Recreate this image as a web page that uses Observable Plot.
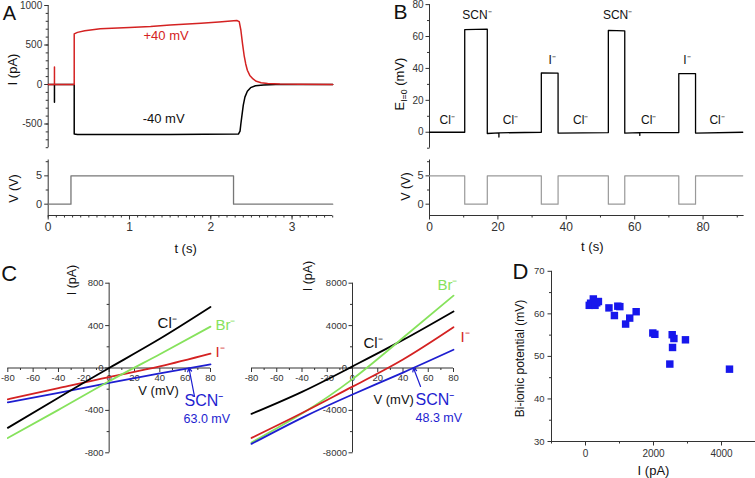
<!DOCTYPE html>
<html><head><meta charset="utf-8">
<script src="https://cdn.jsdelivr.net/npm/d3@7"></script>
<script src="https://cdn.jsdelivr.net/npm/@observablehq/plot@0.6"></script>
<style>
body{margin:0;background:#fff;}
#fig{position:relative;width:755px;height:478px;overflow:hidden;background:#fff;}
#fig svg{position:absolute;overflow:visible;background:transparent;}
</style></head><body><div id="fig"></div><script>
// ---------- Panel A data ----------
const aRedT = [0, 0.077, 0.077, 0.077, 0.32, 0.32, 0.36, 0.45, 0.64, 1.0, 1.26, 1.5, 1.88, 2.1, 2.32, 2.35, 2.37, 2.39, 2.41, 2.43, 2.45, 2.48, 2.52, 2.56, 2.62, 2.7, 2.85, 3.1, 3.5];
const aRedI = [0, 0, 220, 0, 0, 640, 660, 680, 705, 722, 734, 752, 776, 792, 810, 795, 690, 520, 370, 260, 180, 115, 70, 40, 22, 12, 5, 2, 0];
const aBlkT = [0, 0.077, 0.077, 0.077, 0.32, 0.32, 0.36, 1.5, 2.34, 2.36, 2.37, 2.38, 2.40, 2.42, 2.45, 2.49, 2.55, 2.65, 2.8, 3.5];
const aBlkI = [0, 0, -225, 0, 0, -628, -633, -632, -628, -590, -500, -420, -260, -160, -85, -40, -15, -5, 0, 0];
const aVT = [0, 0.28, 0.28, 2.28, 2.28, 3.5];
const aVV = [0, 0, 5, 5, 0, 0];
const aTraceLabels = ["+40 mV", "-40 mV"];
// ---------- Panel B data ----------
const bET = [0, 10.3, 10.3, 16.9, 16.9, 20.3, 20.3, 20.3, 32.7, 32.7, 37.6, 37.6, 52.3, 52.3, 57.1, 57.1, 61.5, 61.5, 61.5, 72.9, 72.9, 77.8, 77.8, 91.6];
const bEE = [0, 0, 64.3, 64.6, -0.8, -0.4, -3, -0.4, 0, 37.2, 37.0, -0.5, -0.2, 63.8, 63.5, -0.6, -0.3, -2, -0.3, -0.2, 36.8, 36.8, -0.5, 0];
const bVT = [0, 10.3, 10.3, 16.9, 16.9, 32.7, 32.7, 37.6, 37.6, 52.3, 52.3, 57.1, 57.1, 72.9, 72.9, 77.8, 77.8, 91.6];
const bVV = [5, 5, 0, 0, 5, 5, 0, 0, 5, 5, 0, 0, 5, 5, 0, 0, 5, 5];
const bIonName = ["Cl⁻", "SCN⁻", "Cl⁻", "I⁻", "Cl⁻", "SCN⁻", "Cl⁻", "I⁻", "Cl⁻"];
const bIonT = [5.2, 13.9, 23.7, 35.9, 44.2, 55.0, 64.1, 75.3, 84.1];
const bIonE = [7.8, 73.2, 7.8, 44.9, 7.8, 73.2, 7.8, 44.9, 7.8];
// ---------- Panel C data ----------
const cV = [-80, -40, 0, 40, 80];
const cLeftCl = [-565, -280, 0, 275, 575];
const cLeftBr = [-660, -395, -125, 130, 390];
const cLeftI = [-295, -190, -85, 15, 135];
const cLeftSCN = [-325, -235, -140, -50, 35];
const cRightCl = [-4330, -2250, 150, 2650, 5340];
const cRightBr = [-7030, -4300, -1050, 2850, 6830];
const cRightI = [-6600, -4250, -1760, 800, 3840];
const cRightSCN = [-7160, -4700, -2500, -430, 1720];
const cRevV = [63.0, 48.3];
const cRevLabel = ["63.0 mV", "48.3 mV"];
// ---------- Panel D data ----------
const dI = [110, 150, 230, 280, 330, 380, 690, 850, 950, 1010, 1180, 1300, 1490, 1980, 2040, 2550, 2600, 2560, 2480, 2940, 4235];
const dV = [62.0, 62.5, 63.5, 62.0, 62.6, 62.9, 61.4, 59.6, 61.8, 61.7, 57.6, 59.0, 60.5, 55.5, 55.2, 55.1, 54.2, 52.1, 48.2, 53.9, 47.0];
// ---------- tick labels ----------
const aYTicks = [-500, 0, 500, 1000];
const vTicks = [0, 5];
const aXTicks = [0, 1, 2, 3];
const bYTicks = [0, 20, 40, 60, 80];
const bXTicks = [0, 20, 40, 60, 80];
const cXTicks = [-80, -60, -40, -20, 0, 20, 40, 60, 80];
const cLeftYTicks = [-800, -400, 0, 400, 800];
const cRightYTicks = [-8000, -4000, 0, 4000, 8000];
const dYTicks = [30, 40, 50, 60, 70];
const dXTicks = [0, 2000, 4000];

const FONT = '"Liberation Sans", Arimo, Arial, Helvetica, sans-serif';
const RED = "#d42222", GREEN = "#86e25c", BLUE = "#1e1ed0", DBLUE = "#1717ec";
const AX = "#333", INK = "#111";
const fig = document.getElementById("fig");

const tickL = {draw(c, s) { const r = Math.sqrt(s / Math.PI); c.moveTo(0, 0); c.lineTo(-r, 0); }};
const tickD = {draw(c, s) { const r = Math.sqrt(s / Math.PI); c.moveTo(0, 0); c.lineTo(0, r); }};

function yAxis(x0, dom, major, minor, {len = 4, mlen = 2.5, fs = 10, pad = 2, labels = major} = {}) {
  return [
    Plot.ruleX([x0], {y1: dom[0], y2: dom[1], stroke: AX, strokeWidth: 1}),
    Plot.dot(minor, {x: x0, y: d => d, symbol: tickL, r: mlen, stroke: AX, fill: "none", strokeWidth: 1}),
    Plot.dot(major, {x: x0, y: d => d, symbol: tickL, r: len, stroke: AX, fill: "none", strokeWidth: 1}),
    Plot.text(labels, {x: x0, y: d => d, text: d => String(d), textAnchor: "end", dx: -(len + pad), fontSize: fs, fill: AX})
  ];
}
function xAxis(y0, dom, major, minor, {len = 4, mlen = 2, fs = 11, off = 11, labels = major} = {}) {
  return [
    Plot.ruleY([y0], {x1: dom[0], x2: dom[1], stroke: AX, strokeWidth: 1}),
    Plot.dot(minor, {x: d => d, y: y0, symbol: tickD, r: mlen, stroke: AX, fill: "none", strokeWidth: 1}),
    Plot.dot(major, {x: d => d, y: y0, symbol: tickD, r: len, stroke: AX, fill: "none", strokeWidth: 1}),
    Plot.text(labels, {x: d => d, y: y0, text: d => String(d), dy: off, fontSize: fs, fill: AX})
  ];
}
function T(x, y, text, o = {}) {
  return Plot.text([{x, y, text}], {x: "x", y: "y", text: "text", fontSize: 12, fill: INK, ...o});
}
function series(xs, ys, o) {
  return Plot.line(ys, {x: (d, i) => xs[i], y: d => d, ...o});
}
function panel({left, top, width, height, ml, mr, mt, mb, xd, yd, marks}) {
  const p = Plot.plot({
    width, height, marginLeft: ml, marginRight: mr, marginTop: mt, marginBottom: mb,
    x: {domain: xd, axis: null}, y: {domain: yd, axis: null},
    style: {background: "transparent", overflow: "visible", fontFamily: FONT, color: AX},
    marks
  });
  p.style.position = "absolute"; p.style.left = left + "px"; p.style.top = top + "px";
  p.querySelectorAll("text").forEach(t => {
    if (t.textContent.includes("|")) {
      const parts = t.textContent.split("|");
      t.textContent = "";
      const ns = "http://www.w3.org/2000/svg";
      const a = document.createElementNS(ns, "tspan"); a.textContent = parts[0];
      const b = document.createElementNS(ns, "tspan"); b.textContent = parts[1];
      b.setAttribute("font-size", "0.68em"); b.setAttribute("dy", "0.35em");
      const c = document.createElementNS(ns, "tspan"); c.textContent = parts[2];
      c.setAttribute("dy", "-0.24em");
      t.append(a, b, c);
    }
  });
  fig.appendChild(p);
}

// ---------- A top ----------
panel({left: 0, top: 0, width: 340, height: 152, ml: 47.7, mr: 7.8, mt: 5, mb: 4.8, xd: [0, 3.5], yd: [-800, 1000],
  marks: [
    ...yAxis(0, [-800, 1000], aYTicks, d3.range(-800, 1001, 100), {fs: 10, pad: 2}),
    series(aBlkT, aBlkI, {stroke: "#000", strokeWidth: 1.5}),
    series(aRedT, aRedI, {stroke: RED, strokeWidth: 1.5}),
    T(1.45, 620, aTraceLabels[0], {fill: RED, fontSize: 13}),
    T(1.42, -434, aTraceLabels[1], {fill: INK, fontSize: 13}),
    T(-0.44, 190, "I (pA)", {rotate: -90, fontSize: 13}),
    T(-0.477, 897, "A", {fontSize: 20})
  ]});
// ---------- A bottom ----------
panel({left: 0, top: 155, width: 340, height: 100, ml: 47.7, mr: 7.8, mt: 4.5, mb: 40, xd: [0, 3.5], yd: [-2, 7.8],
  marks: [
    ...yAxis(0, [-2, 7.8], vTicks, [2.5, 7.5], {fs: 11, pad: 2}),
    ...xAxis(-2, [0, 3.5], aXTicks, d3.range(0, 3.51, 0.1).map(d => +d.toFixed(2)), {fs: 12, off: 11.5}),
    series(aVT, aVV, {stroke: "#777", strokeWidth: 1.3}),
    T(-0.42, 2.77, "V (V)", {rotate: -90, fontSize: 12.5}),
    T(1.69, -2, "t (s)", {dy: 33, fontSize: 13})
  ]});
// ---------- B top ----------
panel({left: 380, top: 0, width: 375, height: 152, ml: 49, mr: 11.4, mt: 4.1, mb: 4.3, xd: [0, 92], yd: [-10, 80],
  marks: [
    ...yAxis(0, [-10, 80], bYTicks, [-10, 10, 30, 50, 70], {fs: 10, pad: 2}),
    series(bET, bEE, {stroke: "#000", strokeWidth: 1.3}),
    Plot.text(bIonName, {x: (d, i) => bIonT[i], y: (d, i) => bIonE[i], text: d => d, fontSize: 12, fill: INK}),
    T(-8.8, 30.2, "E|I=0| (mV)", {rotate: -90, fontSize: 13}),
    T(-8.5, 75.2, "B", {fontSize: 21})
  ]});
// ---------- B bottom ----------
panel({left: 380, top: 155, width: 375, height: 100, ml: 49, mr: 11.4, mt: 4.5, mb: 40, xd: [0, 92], yd: [-2, 7.8],
  marks: [
    ...yAxis(0, [-2, 7.8], vTicks, [2.5, 7.5], {fs: 11, pad: 2}),
    ...xAxis(-2, [0, 92], bXTicks, [10, 30, 50, 70, 90], {fs: 12, off: 11.5}),
    series(bVT, bVV, {stroke: "#999", strokeWidth: 1.2}),
    T(-6.8, 3.1, "V (V)", {rotate: -90, fontSize: 12.5}),
    T(47.6, -2, "t (s)", {dy: 31, fontSize: 13})
  ]});
// ---------- C left ----------
panel({left: 0, top: 255, width: 240, height: 223, ml: 7.3, mr: 30, mt: 27.7, mb: 25.7, xd: [-80, 80], yd: [-800, 800],
  marks: [
    ...yAxis(0, [-800, 800], cLeftYTicks, [-600, -200, 200, 600], {fs: 9.5, pad: 1.5}),
    ...xAxis(0, [-80, 80], cXTicks, [-70, -50, -30, -10, 10, 30, 50, 70], {fs: 9.5, off: 10.2}),
    series(cV, cLeftI, {stroke: RED, strokeWidth: 1.8, curve: "natural"}),
    series(cV, cLeftSCN, {stroke: BLUE, strokeWidth: 1.8, curve: "natural"}),
    series(cV, cLeftBr, {stroke: GREEN, strokeWidth: 1.8, curve: "natural"}),
    series(cV, cLeftCl, {stroke: "#000", strokeWidth: 1.8, curve: "natural"}),
    T(38.2, 420, "Cl⁻", {textAnchor: "start", fontSize: 15}),
    T(83.9, 405, "Br⁻", {textAnchor: "start", fontSize: 15, fill: GREEN}),
    T(83.9, 153, "I⁻", {textAnchor: "start", fontSize: 15, fill: RED}),
    T(59.5, -308, "SCN⁻", {textAnchor: "start", fontSize: 16, fill: BLUE}),
    T(58.7, -484, cRevLabel[0], {textAnchor: "start", fontSize: 12.5, fill: BLUE}),
    T(39, -215, "V (mV)", {fontSize: 13}),
    Plot.arrow([cRevV[0]], {x1: d => d + 4.4, y1: -269, x2: d => d, y2: 0, stroke: BLUE, strokeWidth: 1.2, headLength: 5}),
    T(-29.7, 830, "I (pA)", {rotate: -90, fontSize: 12.5}),
    T(-79, 891, "C", {fontSize: 22})
  ]});
// ---------- C right ----------
panel({left: 240, top: 255, width: 250, height: 223, ml: 11, mr: 37, mt: 27.7, mb: 25.7, xd: [-80, 80], yd: [-8000, 8000],
  marks: [
    ...yAxis(0, [-8000, 8000], cRightYTicks, [-6000, -2000, 2000, 6000], {fs: 9.5, pad: 1.5}),
    ...xAxis(0, [-80, 80], cXTicks, [-70, -50, -30, -10, 10, 30, 50, 70], {fs: 9.5, off: 10.2}),
    series(cV, cRightCl, {stroke: "#000", strokeWidth: 1.8, curve: "natural"}),
    series(cV, cRightBr, {stroke: GREEN, strokeWidth: 1.8, curve: "natural"}),
    series(cV, cRightI, {stroke: RED, strokeWidth: 1.8, curve: "natural"}),
    series(cV, cRightSCN, {stroke: BLUE, strokeWidth: 1.8, curve: "natural"}),
    T(8.7, 2311, "Cl⁻", {textAnchor: "start", fontSize: 15}),
    T(67.3, 7820, "Br⁻", {textAnchor: "start", fontSize: 15, fill: GREEN}),
    T(85.5, 2943, "I⁻", {textAnchor: "start", fontSize: 15, fill: RED}),
    T(16.6, -3000, "V (mV)", {textAnchor: "start", fontSize: 13}),
    T(49.9, -2990, "SCN⁻", {textAnchor: "start", fontSize: 16, fill: BLUE}),
    T(49.9, -4690, cRevLabel[1], {textAnchor: "start", fontSize: 12.5, fill: BLUE}),
    Plot.arrow([cRevV[1]], {x1: d => d + 5.6, y1: -1745, x2: d => d, y2: 0, stroke: BLUE, strokeWidth: 1.2, headLength: 5}),
    T(-34.9, 8680, "I (pA)", {rotate: -90, fontSize: 12.5})
  ]});
// ---------- D ----------
panel({left: 490, top: 255, width: 265, height: 223, ml: 61, mr: 0, mt: 15.8, mb: 37, xd: [-1000, 5000], yd: [30, 70],
  marks: [
    ...yAxis(-1000, [30, 70], dYTicks, [35, 45, 55, 65], {fs: 9.5, pad: 3}),
    ...xAxis(30, [-1000, 5000], dXTicks, [-1000, 1000, 3000, 5000], {fs: 10, off: 12}),
    Plot.dot(dV, {x: (d, i) => dI[i], y: d => d, symbol: "square", r: 4.2, fill: DBLUE, stroke: "none"}),
    T(-1912, 49.5, "Bi-ionic potential (mV)", {rotate: -90, fontSize: 12}),
    T(2000, 30, "I (pA)", {dy: 29.3, fontSize: 13}),
    T(-1912, 69.9, "D", {fontSize: 22})
  ]});
</script></body></html>
